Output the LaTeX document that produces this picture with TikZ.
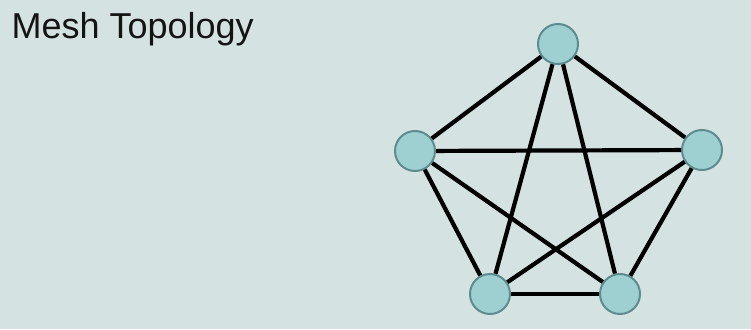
\documentclass[tikz,border=0pt]{standalone}
\usepackage{fontspec}
\setmainfont{Liberation Sans}
\usetikzlibrary{positioning}
\definecolor{fondgris}{HTML}{D4E2E2}
\definecolor{noeudbleu}{HTML}{9ED0D2}
\definecolor{bordbleu}{HTML}{5E8C8E}
\definecolor{texte}{HTML}{141414}

\begin{document}
\begin{tikzpicture}[x=1pt, y=-1pt,
    hote/.style={circle, draw=bordbleu, line width=2pt, fill=noeudbleu,
      minimum size=40pt, inner sep=0pt},
    lien/.style={line width=4.2pt, black}
  ]
    % fond
    \fill[fondgris] (0,0) rectangle (751,329);
    \useasboundingbox (0,0) rectangle (751,329);
    \node[anchor=base west, font=\fontsize{36}{40}\selectfont, text=texte]
      (titre) at (8,39) {Mesh Topology};
    % postes
    \node[hote] (haut) at (558,44) {};
    \node[hote] (gauche) at (415,151) {};
    \node[hote] (droite) at (702,150) {};
    \node[hote] (basg) at (490,294) {};
    \node[hote] (basd) at (620,294) {};
    % liaisons
    \foreach \a/\b in {haut/gauche,haut/droite,haut/basg,haut/basd,gauche/droite,
        gauche/basg,gauche/basd,droite/basg,droite/basd,basg/basd}
      \draw[lien] (\a) -- (\b);
  \end{tikzpicture}
\end{document}
